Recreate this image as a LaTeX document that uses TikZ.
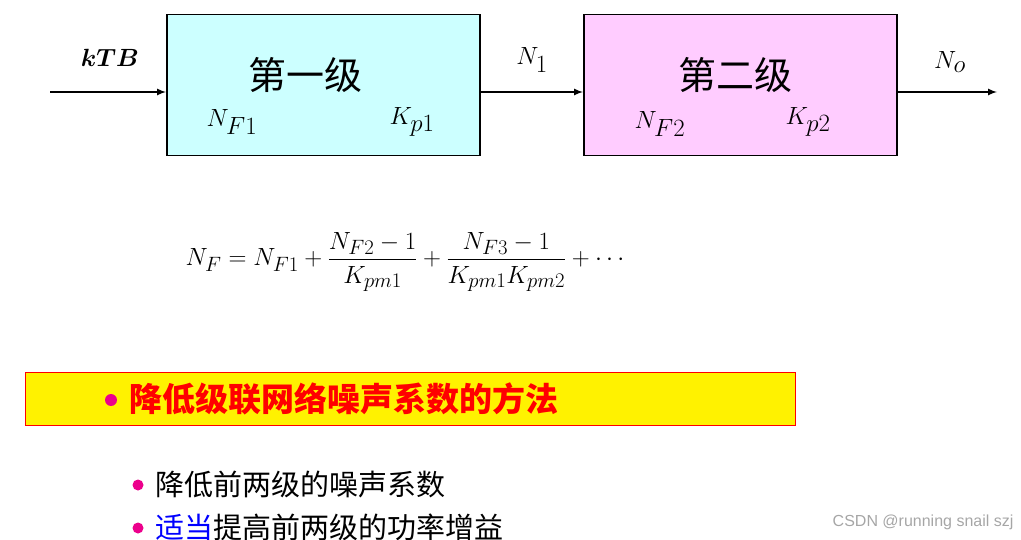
\documentclass[tikz,border=0pt]{standalone}
\usepackage{amsmath,bm}
\usepackage{fontspec}
\newfontfamily\cjk{Noto Sans CJK SC}
\newfontfamily\sans{Liberation Sans}
\begin{document}
\begin{tikzpicture}[x=1pt,y=-1pt,
  blk/.style={draw=black,line width=1.5pt,minimum width=313pt,minimum height=141pt,anchor=north west},
  arr/.style={-latex,line width=2pt},
  lbl/.style={font=\fontsize{33}{38}\selectfont},
  cn/.style={font=\cjk\fontsize{29}{32}\selectfont,anchor=west,inner sep=0pt},
  bul/.style={circle,fill=magenta,inner sep=0pt,minimum size=12pt}]
\useasboundingbox (0,0) rectangle (1021,540);
\node[blk,fill={rgb,255:red,204;green,255;blue,255}] (b1) at (166,14) {};
\node[blk,fill={rgb,255:red,255;green,204;blue,255}] (b2) at (583,14) {};
\coordinate (in) at (50,92);
\coordinate (out) at (997,92);
\draw[arr] (in) -- (in -| b1.west);
\draw[arr] (b1.east |- in) -- (b2.west |- in);
\draw[arr] (b2.east |- in) -- (out);
\node[font=\fontsize{50}{56}\selectfont] (ktb) at (110,58) {$\bm{kTB}$};
\node[lbl] (n1) at (532,60) {$N_1$};
\node[lbl] (no) at (950,62) {$N_o$};
\node[font=\cjk\fontsize{38}{42}\selectfont] (t1) at (305,75) {第一级};
\node[lbl] (nf1) at (232,122) {$N_{F1}$};
\node[lbl] (kp1) at (412,122) {$K_{p1}$};
\node[font=\cjk\fontsize{38}{42}\selectfont] (t2) at (735,75) {第二级};
\node[lbl] (nf2) at (660,124) {$N_{F2}$};
\node[lbl] (kp2) at (808,122) {$K_{p2}$};
\node[font=\fontsize{29}{34}\selectfont] (f) at (407,262) {$N_F=N_{F1}+\dfrac{N_{F2}-1}{K_{pm1}}+\dfrac{N_{F3}-1}{K_{pm1}K_{pm2}}+\cdots$};
\node[draw=red,fill=yellow,line width=0.8pt,minimum width=770pt,minimum height=53pt,anchor=north west] (yb) at (25,372) {};
\node[bul] (bb) at (111,400) {};
\node[font=\cjk\bfseries\fontsize{33}{36}\selectfont,text=red,anchor=west,inner sep=0pt] (h) at (129,399) {降低级联网络噪声系数的方法};
\node[bul,minimum size=11pt] (b3) at (138,485) {};
\node[cn] (l1) at (155,484) {降低前两级的噪声系数};
\node[bul,minimum size=11pt] (b4) at (138,528) {};
\node[cn] (l2) at (155,527) {\textcolor{blue}{适当}提高前两级的功率增益};
\node[font=\sans\fontsize{16}{18}\selectfont,text=gray!70,anchor=east] (wm) at (1017,522) {CSDN @running snail szj};
\end{tikzpicture}
\end{document}
